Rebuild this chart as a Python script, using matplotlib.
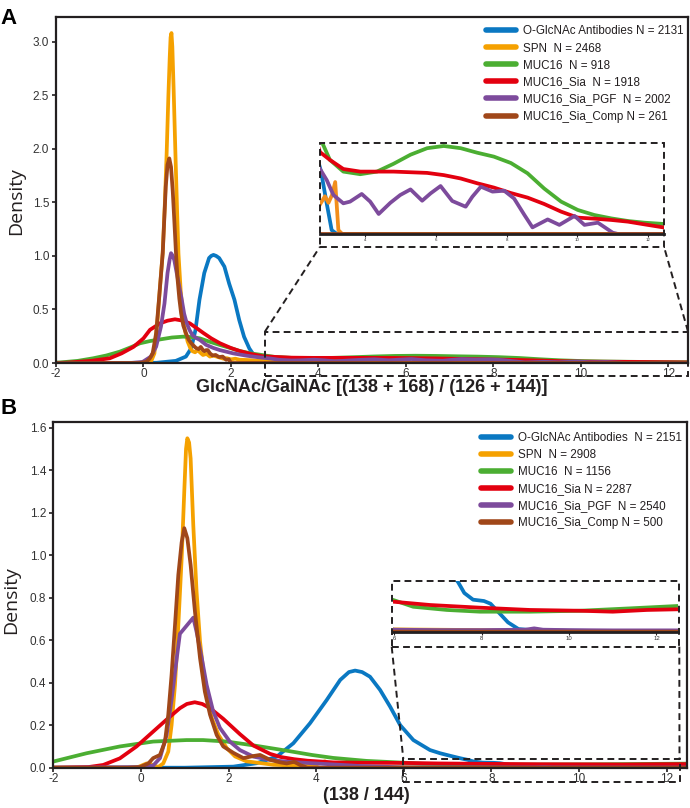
import matplotlib
matplotlib.use("Agg")
import matplotlib.pyplot as plt
from matplotlib.lines import Line2D
from matplotlib.patches import Rectangle

# ---------------- data ----------------
labels_A = ["O-GlcNAc Antibodies N = 2131", "SPN  N = 2468", "MUC16  N = 918",
            "MUC16_Sia  N = 1918", "MUC16_Sia_PGF  N = 2002", "MUC16_Sia_Comp N = 261"]
labels_B = ["O-GlcNAc Antibodies  N = 2151", "SPN  N = 2908", "MUC16  N = 1156",
            "MUC16_Sia N = 2287", "MUC16_Sia_PGF  N = 2540", "MUC16_Sia_Comp N = 500"]
colors = ["#0A78C2", "#F5A100", "#4BAE32", "#E3000F", "#7D4B9C", "#A04719"]
inset_orange = "#F28E1C"

xticks_main = [-2, 0, 2, 4, 6, 8, 10, 12]
yticks_A = [0.0, 0.5, 1.0, 1.5, 2.0, 2.5, 3.0]
yticks_B = [0.0, 0.2, 0.4, 0.6, 0.8, 1.0, 1.2, 1.4, 1.6]
xticks_inA = [4, 6, 8, 10, 12]
xticks_inB = [6, 8, 10, 12]

# Panel A curves
A_blue_x = [-2, 0.3, 0.74, 0.97, 1.09, 1.19, 1.28, 1.39, 1.5, 1.55, 1.6, 1.66, 1.73, 1.85, 1.96,
            2.08, 2.19, 2.3, 2.42, 2.53, 2.65, 2.75, 2.9, 3.05, 3.2, 12.45]
A_blue_y = [0, 0.002, 0.02, 0.06, 0.136, 0.31, 0.59, 0.84, 0.98, 1.0, 1.009, 1.0, 0.98, 0.90, 0.74,
            0.59, 0.40, 0.245, 0.136, 0.07, 0.058, 0.048, 0.025, 0.003, 0, 0]

A_orange_x = [-2, 0.1, 0.17, 0.25, 0.32, 0.38, 0.44, 0.49, 0.53, 0.57, 0.60, 0.62, 0.64, 0.66, 0.69,
              0.73, 0.77, 0.80, 0.85, 0.90, 0.95, 1.01, 1.07, 1.12, 1.18, 1.24, 1.29, 1.36, 1.44,
              1.52, 1.60, 1.67, 1.75, 1.83, 1.9, 2.0, 2.1, 2.2, 2.36, 2.5, 2.66, 2.77, 2.86, 2.96,
              3.06, 3.15, 3.24, 3.35, 12.45]
A_orange_y = [0, 0, 0.01, 0.09, 0.40, 0.72, 1.03, 1.5, 1.96, 2.5, 2.85, 3.04, 3.08, 2.95, 2.55,
              1.96, 1.4, 1.02, 0.68, 0.46, 0.3, 0.2, 0.14, 0.11, 0.1, 0.12, 0.1, 0.075, 0.085,
              0.06, 0.07, 0.06, 0.05, 0.04, 0.045, 0.034, 0.04, 0.03, 0.028, 0.025, 0.02, 0.025,
              0.029, 0.024, 0.03, 0.040, 0.003, 0, 0]

A_green_x = [-2, -1.91, -1.5, -1.15, -0.85, -0.54, -0.3, -0.08, 0.15, 0.377, 0.65, 0.91, 1.1, 1.29,
             1.5, 1.75, 2.0, 2.2, 2.45, 2.72, 3.0, 3.38, 3.86, 4.33, 4.8, 5.28, 5.75, 6.22, 6.7,
             7.17, 7.64, 8.12, 8.59, 9.06, 9.54, 10.01, 10.48, 10.96, 11.43, 11.9, 12.45]
A_green_y = [0.004, 0.005, 0.02, 0.044, 0.07, 0.106, 0.145, 0.184, 0.205, 0.22, 0.238, 0.246, 0.242,
             0.23, 0.2, 0.168, 0.138, 0.112, 0.09, 0.074, 0.057, 0.048, 0.046, 0.048, 0.054, 0.061,
             0.066, 0.0677, 0.066, 0.0625, 0.0595, 0.0546, 0.0467, 0.035, 0.0249, 0.0185, 0.0146,
             0.012, 0.010, 0.0087, 0.0077]

A_red_x = [-2, -1.76, -1.2, -0.77, -0.5, -0.23, 0.0, 0.15, 0.377, 0.55, 0.72, 0.9, 1.06, 1.2, 1.37,
           1.55, 1.75, 2.0, 2.2, 2.45, 2.72, 3.0, 3.38, 3.86, 4.8, 5.75, 6.22, 6.70, 7.17, 7.64,
           8.12, 8.59, 9.06, 9.54, 10.01, 10.48, 10.96, 11.43, 11.9, 12.45]
A_red_y = [0.001, 0.003, 0.02, 0.044, 0.09, 0.15, 0.23, 0.31, 0.37, 0.395, 0.408, 0.395, 0.37, 0.33,
           0.28, 0.23, 0.184, 0.14, 0.112, 0.085, 0.063, 0.057, 0.050, 0.048, 0.048, 0.047, 0.0453,
           0.0427, 0.039, 0.0357, 0.0315, 0.028, 0.0231, 0.0172, 0.0126, 0.0118, 0.0108, 0.0095,
           0.0074, 0.005]

A_purple_x = [-2, -0.3, -0.02, 0.17, 0.29, 0.4, 0.48, 0.55, 0.60, 0.63, 0.67, 0.705, 0.76, 0.82,
              0.88, 0.93, 0.99, 1.05, 1.12, 1.2, 1.29, 1.43, 1.6, 1.75, 2.05, 2.36, 2.6, 2.75, 2.91,
              3.10, 3.38, 3.57, 3.90, 4.14, 4.38, 4.71, 4.99, 5.28, 5.61, 5.85, 6.13, 6.46, 6.84,
              7.03, 7.27, 7.60, 7.93, 8.21, 8.50, 8.73, 9.16, 9.49, 9.92, 10.20, 10.58, 11.0,
              11.15, 12.45]
A_purple_y = [0, 0, 0.01, 0.06, 0.153, 0.34, 0.555, 0.84, 0.97, 1.025, 1.0, 0.96, 0.84, 0.71, 0.58,
              0.46, 0.37, 0.31, 0.26, 0.235, 0.215, 0.17, 0.14, 0.12, 0.09, 0.068, 0.055, 0.0487,
              0.0415, 0.030, 0.0236, 0.0249, 0.0308, 0.0249, 0.0154, 0.024, 0.030, 0.0343, 0.0256,
              0.0313, 0.0369, 0.0254, 0.021, 0.0287, 0.0364, 0.0326, 0.0333, 0.0273, 0.0147,
              0.0051, 0.0112, 0.007, 0.0139, 0.007, 0.0087, 0.001, 0, 0]

A_brown_x = [-2, -0.1, 0.06, 0.14, 0.21, 0.29, 0.36, 0.44, 0.51, 0.55, 0.59, 0.63, 0.67, 0.705, 0.74,
             0.78, 0.82, 0.86, 0.91, 0.97, 1.03, 1.09, 1.15, 1.2, 1.26, 1.31, 1.36, 1.39, 1.43, 1.47,
             1.52, 1.58, 1.65, 1.73, 1.81, 1.89, 1.95, 2.0, 12.45]
A_brown_y = [0, 0, 0.01, 0.04, 0.09, 0.28, 0.62, 1.025, 1.65, 1.85, 1.91, 1.83, 1.6, 1.33, 1.05,
             0.78, 0.6, 0.465, 0.35, 0.28, 0.22, 0.186, 0.16, 0.14, 0.13, 0.15, 0.12, 0.11, 0.12,
             0.12, 0.09, 0.07, 0.075, 0.055, 0.06, 0.03, 0.035, 0.0, 0]

# Panel B curves
B_blue_x = [-2, 1.0, 2.11, 2.64, 3.1, 3.48, 3.86, 4.24, 4.55, 4.75, 4.89, 5.05, 5.23, 5.46, 5.69,
            5.92, 6.22, 6.6, 6.83, 7.06, 7.3, 7.46, 7.6, 7.8, 8.05, 8.2, 8.4, 8.6, 8.84, 9.2, 12.5]
B_blue_y = [0, 0, 0.005, 0.021, 0.052, 0.115, 0.209, 0.318, 0.413, 0.45, 0.457, 0.45, 0.428, 0.366,
            0.287, 0.2, 0.13, 0.083, 0.068, 0.056, 0.044, 0.037, 0.029, 0.024, 0.023, 0.021, 0.014,
            0.007, 0.002, 0.001, 0]

B_orange_x = [-2, -0.1, 0.13, 0.21, 0.28, 0.40, 0.51, 0.625, 0.70, 0.778, 0.854, 0.93, 0.99, 1.03,
              1.06, 1.10, 1.135, 1.196, 1.27, 1.35, 1.46, 1.615, 1.77, 1.96, 2.15, 2.41, 2.72,
              3.02, 3.5, 4.0, 4.2, 4.4, 5.0, 12.5]
B_orange_y = [0, 0, 0.02, 0.02, 0.01, 0.004, 0.02, 0.076, 0.20, 0.39, 0.67, 0.985, 1.30, 1.50,
              1.55, 1.53, 1.455, 1.14, 0.83, 0.593, 0.39, 0.234, 0.155, 0.092, 0.053, 0.03, 0.022,
              0.014, 0.01, 0.015, 0.03, 0.01, 0.002, 0]

B_green_x = [-2, -1.24, -0.48, 0.28, 1.04, 1.42, 1.96, 2.57, 3.33, 3.9, 4.39, 5.15, 5.97, 6.43,
             7.2, 7.96, 9.1, 10.25, 11.4, 12.5]
B_green_y = [0.029, 0.068, 0.1, 0.123, 0.13, 0.13, 0.123, 0.105, 0.08, 0.06, 0.046, 0.032, 0.0238,
             0.0187, 0.0163, 0.015, 0.015, 0.0157, 0.0175, 0.0193]

B_red_x = [-2, -1.2, -0.86, -0.48, -0.1, 0.28, 0.59, 0.89, 1.05, 1.23, 1.4, 1.58, 1.88, 2.26, 2.57,
           2.95, 3.2, 3.5, 3.8, 4.39, 5.15, 5.97, 6.82, 7.96, 9.1, 10.25, 11.0, 11.78, 12.5]
B_red_y = [0, 0.003, 0.013, 0.044, 0.1, 0.17, 0.227, 0.28, 0.3, 0.308, 0.3, 0.28, 0.23, 0.158,
           0.104, 0.065, 0.05, 0.04, 0.033, 0.025, 0.023, 0.0225, 0.020, 0.018, 0.0163, 0.0157,
           0.015, 0.0163, 0.0168]

B_purple_x = [-2, -0.02, 0.28, 0.435, 0.587, 0.70, 0.815, 0.89, 1.196, 1.27, 1.39, 1.5, 1.65, 1.805,
              2.03, 2.26, 2.57, 2.95, 3.33, 4.0, 5.0, 6.0, 7.0, 8.0, 9.0, 9.2, 9.4, 10.0, 11.0, 12.5]
B_purple_y = [0, 0.003, 0.01, 0.045, 0.154, 0.32, 0.51, 0.63, 0.706, 0.64, 0.515, 0.39, 0.265,
              0.187, 0.123, 0.083, 0.052, 0.037, 0.028, 0.02, 0.008, 0.0015, 0.0012, 0.0012,
              0.0015, 0.0025, 0.0015, 0.0012, 0.001, 0.001]

B_brown_x = [-2, -0.3, -0.02, 0.17, 0.28, 0.435, 0.55, 0.625, 0.70, 0.778, 0.854, 0.93, 0.99, 1.06,
             1.135, 1.234, 1.35, 1.46, 1.577, 1.73, 1.88, 2.11, 2.34, 2.57, 2.72, 2.95, 3.18, 3.33,
             3.5, 3.63, 3.8, 12.5]
B_brown_y = [0, 0, 0.003, 0.02, 0.045, 0.06, 0.123, 0.25, 0.436, 0.67, 0.907, 1.06, 1.127, 1.08,
             0.954, 0.734, 0.515, 0.358, 0.25, 0.154, 0.1, 0.07, 0.045, 0.055, 0.06, 0.037, 0.025,
             0.02, 0.028, 0.013, 0, 0]

xlim_A = (-2, 12.45)
ylim_A = (0, 3.23)
xlim_B = (-2, 12.46)
ylim_B = (0, 1.628)
xlim_inA = (2.72, 12.45)
ylim_inA = (0, 0.07)
xlim_inB = (5.96, 12.5)
ylim_inB = (0, 0.038)

# ---------------- styling ----------------
plt.rcParams["font.family"] = ["Liberation Sans", "DejaVu Sans"]
plt.rcParams["axes.unicode_minus"] = False
INK = "#231f20"
LW = 2.7

W, H = 690, 808
fig = plt.figure(figsize=(W / 100, H / 100), dpi=100)


def fr(l, t, r, b):
    return [l / W, 1 - b / H, (r - l) / W, (b - t) / H]


def fxy(px, py):
    return (px / W, 1 - py / H)


def style_main(ax, yt, yfmt):
    for s in ax.spines.values():
        s.set_linewidth(1.6)
        s.set_color(INK)
    ax.set_xticks(xticks_main)
    ax.set_xticklabels([str(v) for v in xticks_main])
    ax.set_yticks(yt)
    ax.set_yticklabels([yfmt.format(v) for v in yt])
    ax.tick_params(axis="both", direction="out", length=3, width=1.2, color=INK,
                   labelsize=8.5, labelcolor="#333333")
    ax.tick_params(axis="x", pad=0.5)
    ax.tick_params(axis="y", pad=2)


def style_inset(ax, xt, fs):
    for k in ("left", "top", "right"):
        ax.spines[k].set_visible(False)
    ax.spines["bottom"].set_linewidth(2.0)
    ax.spines["bottom"].set_color(INK)
    ax.set_yticks([])
    ax.set_xticks(xt)
    ax.set_xticklabels([str(v) for v in xt])
    ax.tick_params(axis="x", direction="out", length=2, width=0.8, color=INK,
                   labelsize=fs, labelcolor="#333333", pad=1)
    ax.patch.set_alpha(0)


def dashed(p1, p2):
    fig.add_artist(Line2D([p1[0] / W, p2[0] / W], [1 - p1[1] / H, 1 - p2[1] / H],
                          transform=fig.transFigure, color=INK, lw=1.4,
                          linestyle=(0, (3.5, 2.2))))


def dashed_rect(l, t, r, b):
    fig.add_artist(Rectangle(fxy(l, b), (r - l) / W, (b - t) / H, transform=fig.transFigure,
                             fill=False, edgecolor=INK, lw=1.4, linestyle=(0, (3.5, 2.2))))


# ---------------- Panel A ----------------
axA = fig.add_axes(fr(56, 17, 688, 363))
A_series = [(A_blue_x, A_blue_y), (A_orange_x, A_orange_y), (A_green_x, A_green_y),
            (A_red_x, A_red_y), (A_purple_x, A_purple_y), (A_brown_x, A_brown_y)]
for (xs, ys), c in zip(A_series, colors):
    axA.plot(xs, ys, color=c, lw=LW, solid_joinstyle="round")
axA.set_xlim(*xlim_A)
axA.set_ylim(*ylim_A)
style_main(axA, yticks_A, "{:.1f}")

handles = [Line2D([], [], color=c, lw=4.0, solid_capstyle="round") for c in colors]
legA = axA.legend(handles, labels_A, loc="upper left", bbox_to_anchor=fxy(486, 25.5),
                  bbox_transform=fig.transFigure, frameon=False, fontsize=8.4,
                  handlelength=2.6, handletextpad=0.55, labelspacing=0.43,
                  borderpad=0, borderaxespad=0)
for t in legA.get_texts():
    t.set_color(INK)

inA = fig.add_axes(fr(320, 143, 664, 234))
for (xs, ys), c in zip(A_series, colors):
    cc = inset_orange if c == colors[1] else c
    inA.plot(xs, ys, color=cc, lw=LW, solid_joinstyle="round")
inA.set_xlim(*xlim_inA)
inA.set_ylim(*ylim_inA)
style_inset(inA, xticks_inA, 3.2)

dashed_rect(320, 142.7, 664, 246.7)
dashed_rect(265, 331.5, 688, 376)
dashed((265, 331.5), (320, 246.7))
dashed((688, 331.5), (664, 246.7))

fig.text(16.5 / W, 1 - 201 / H, "Density", rotation=90, ha="center", va="center",
         fontsize=14, family=["Open Sans", "DejaVu Sans"], color=INK)
fig.text(372 / W, 1 - 387 / H, "GlcNAc/GalNAc [(138 + 168) / (126 + 144)]", ha="center",
         va="center", fontsize=13, fontweight="bold", color=INK)
fig.text(0.5 / W, 1 - 23.5 / H, "A", fontsize=16, fontweight="bold", va="baseline", color="black")

# ---------------- Panel B ----------------
axB = fig.add_axes(fr(53.3, 421.7, 686.7, 767.7))
B_series = [(B_blue_x, B_blue_y), (B_orange_x, B_orange_y), (B_green_x, B_green_y),
            (B_red_x, B_red_y), (B_purple_x, B_purple_y), (B_brown_x, B_brown_y)]
for (xs, ys), c in zip(B_series, colors):
    axB.plot(xs, ys, color=c, lw=LW, solid_joinstyle="round")
axB.set_xlim(*xlim_B)
axB.set_ylim(*ylim_B)
style_main(axB, yticks_B, "{:.1f}")

legB = axB.legend(handles, labels_B, loc="upper left", bbox_to_anchor=fxy(481, 432),
                  bbox_transform=fig.transFigure, frameon=False, fontsize=8.4,
                  handlelength=2.6, handletextpad=0.55, labelspacing=0.43,
                  borderpad=0, borderaxespad=0)
for t in legB.get_texts():
    t.set_color(INK)

inB = fig.add_axes(fr(392.7, 581, 678.3, 631.7))
for (xs, ys), c in zip(B_series, colors):
    inB.plot(xs, ys, color=c, lw=LW, solid_joinstyle="round")
inB.set_xlim(*xlim_inB)
inB.set_ylim(*ylim_inB)
style_inset(inB, xticks_inB, 4.3)

dashed_rect(391.7, 581, 679.3, 646.7)
dashed_rect(403.3, 759, 679.5, 781.7)
dashed((391.7, 646.7), (403.3, 759))
dashed((679.3, 646.7), (679.5, 759))

fig.text(11.5 / W, 1 - 600 / H, "Density", rotation=90, ha="center", va="center",
         fontsize=14, family=["Open Sans", "DejaVu Sans"], color=INK)
fig.text(366 / W, 1 - 795 / H, "(138 / 144)", ha="center", va="center", fontsize=13,
         fontweight="bold", color=INK)
fig.text(0.5 / W, 1 - 414.5 / H, "B", fontsize=16, fontweight="bold", va="baseline", color="black")

fig.savefig("out.png", dpi=100)
